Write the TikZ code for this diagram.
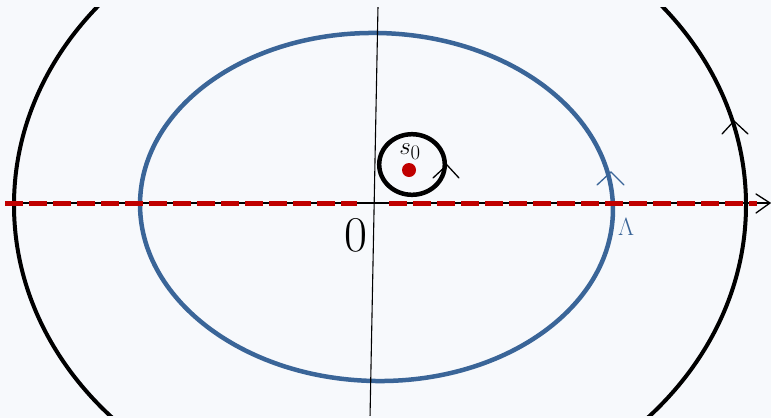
\documentclass[tikz,border=0pt]{standalone}
\definecolor{bg}{HTML}{F7F9FC}
\definecolor{blueC}{HTML}{3A6598}
\definecolor{redC}{HTML}{C00000}
\begin{document}
\begin{tikzpicture}[x=1pt,y=-1pt,
  chev/.style={line width=1.3pt, line cap=round, line join=miter},
  reddash/.style={redC, line width=5pt, dash pattern=on 17.5pt off 6.5pt},
  lab/.style={inner sep=0pt}]
\fill[bg] (0,0) rectangle (771,418);
\useasboundingbox (0,0) rectangle (771,418);
\clip (0,7) rectangle (771,415);
% coordinates
\coordinate (axL) at (5,203);
\coordinate (axR) at (770,203);
\coordinate (vT) at (378,6);
\coordinate (vB) at (370,418);
\coordinate (cBlue) at (376.5,207);
\coordinate (cOut) at (380,205);
\coordinate (cSmall) at (412,164.5);
% outer black ellipse
\draw[line width=4pt] (cOut) ellipse [x radius=366, y radius=312];
% blue ellipse
\draw[blueC, line width=4.5pt, rotate around={-1.3:(cBlue)}] (cBlue) ellipse [x radius=236.5, y radius=174];
% axes
\draw[line width=1.4pt] (axL) -- (axR);
\draw[chev] (756,194) -- (axR) -- (756,213);
\draw[line width=1.1pt] (vT) -- (vB);
% red dashed line
\draw[reddash] (5,203) -- (357,203);
\draw[reddash] (389,203) -- (757,203);
% small circle
\draw[line width=4.5pt] (cSmall) ellipse [x radius=32.8, y radius=30.3];
\fill[redC] (409,170) circle [radius=7];
% chevrons
\draw[chev, blueC] (597,185) -- (611,172) -- (624,185);
\draw[chev] (722,134) -- (734,121) -- (748,134);
\draw[chev] (433,178) -- (447,165) -- (459,178);
% labels
\node[lab, font=\fontsize{32}{32}\selectfont] (s0) at (410,152) {$s_0$};
\node[lab, font=\fontsize{50}{50}\selectfont] (zero) at (356,235.5) {0};
\node[lab, blueC, font=\fontsize{31}{31}\selectfont] (lam) at (626,227) {$\Lambda$};
\end{tikzpicture}
\end{document}
